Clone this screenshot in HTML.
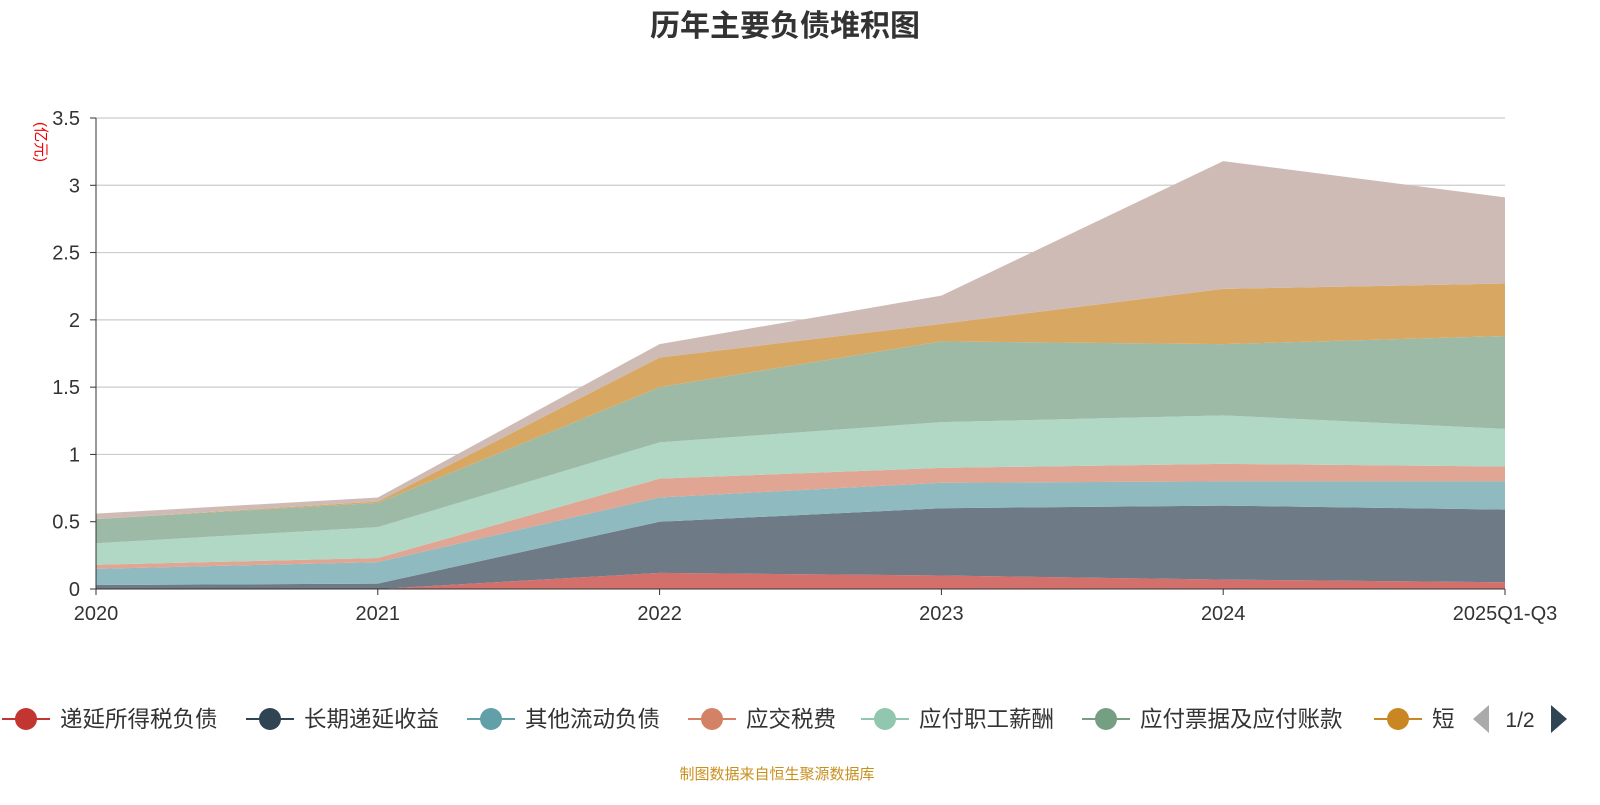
<!DOCTYPE html>
<html><head><meta charset="utf-8"><style>
body{margin:0;width:1600px;height:800px;background:#fff;font-family:"Liberation Sans","Noto Sans CJK SC",sans-serif;overflow:hidden}
</style></head><body>
<svg id="c" width="1600" height="800"></svg>
<script>
const categories=["2020","2021","2022","2023","2024","2025Q1-Q3"];
const seriesNames=["递延所得税负债","长期递延收益","其他流动负债","应交税费","应付职工薪酬","应付票据及应付账款","短期借款","其他"];
const s0=[0,0,0.12,0.10,0.07,0.05];
const s1=[0.03,0.04,0.38,0.50,0.55,0.54];
const s2=[0.12,0.16,0.18,0.19,0.18,0.21];
const s3=[0.03,0.03,0.14,0.11,0.13,0.11];
const s4=[0.16,0.23,0.27,0.34,0.36,0.28];
const s5=[0.18,0.18,0.41,0.60,0.53,0.69];
const s6=[0,0.01,0.22,0.13,0.41,0.39];
const s7=[0.04,0.03,0.10,0.21,0.95,0.64];
const series=[s0,s1,s2,s3,s4,s5,s6,s7];
const yTicks=[0,0.5,1,1.5,2,2.5,3,3.5];
const fills=["#d4706c","#6e7a85","#8fbac0","#e0a593","#b1d7c5","#9dbaa6","#d8a862","#cfbbb5"];
const legendColors=["#c23531","#2f4554","#61a0a8","#d48265","#91c7ae","#749f83","#ca8622"];
const legendLabels=["递延所得税负债","长期递延收益","其他流动负债","应交税费","应付职工薪酬","应付票据及应付账款","短"];
const NS="http://www.w3.org/2000/svg",svg=document.getElementById('c');
function mk(t,a,p){const e=document.createElementNS(NS,t);for(const k in a)e.setAttribute(k,a[k]);(p||svg).appendChild(e);return e;}
const x0=96,x1=1505,yb=589,yt=118;
const X=i=>x0+(x1-x0)*i/(categories.length-1);
const Y=v=>yb-(yb-yt)*v/3.5;
let t=mk('text',{x:785,y:36,'text-anchor':'middle','font-size':30,'font-weight':'bold',fill:'#333'});t.textContent='历年主要负债堆积图';

yTicks.forEach(v=>{
 if(v>0){const l=mk('line',{x1:x0,x2:x1,y1:Y(v),y2:Y(v),stroke:'#ccc','stroke-width':1.2});}
 const tl=mk('text',{x:80,y:Y(v)+7,'text-anchor':'end','font-size':20,fill:'#333'});tl.textContent=String(v);
 
 mk('line',{x1:90,x2:96,y1:Y(v),y2:Y(v),stroke:'#333'});
});
let cum=categories.map(()=>0);
series.forEach((s,k)=>{
 const lo=cum.slice();cum=cum.map((c,i)=>c+s[i]);
 let d='M'+categories.map((_,i)=>X(i)+','+Y(cum[i])).join('L');
 for(let i=categories.length-1;i>=0;i--)d+='L'+X(i)+','+Y(lo[i]);
 const p=mk('path',{d:d+'Z',fill:fills[k]});
 
});
mk('line',{x1:x0,x2:x0,y1:yt,y2:yb,stroke:'#333'});
mk('line',{x1:x0,x2:x1,y1:yb,y2:yb,stroke:'#333'});
categories.forEach((c,i)=>{
 mk('line',{x1:X(i),x2:X(i),y1:yb,y2:yb+6,stroke:'#333'});
 const tl=mk('text',{x:X(i),y:620,'text-anchor':'middle','font-size':20,fill:'#333'});tl.textContent=c;
 
});
t=mk('text',{x:36,y:142,'font-size':15,fill:'#e00','transform':'rotate(90 36 142)','text-anchor':'middle'});t.textContent='(亿元)';

const lx=[0,244,465,686,859,1080,1372];
legendLabels.forEach((n,i)=>{
 const g=mk('g',{});
 mk('line',{x1:lx[i]+2,x2:lx[i]+50,y1:719,y2:719,stroke:legendColors[i],'stroke-width':2},g);
 mk('circle',{cx:lx[i]+26,cy:719,r:11,fill:legendColors[i]},g);
 const tt=mk('text',{x:lx[i]+60,y:727,'font-size':22.5,fill:'#333'},g);tt.textContent=n;
});
let p=mk('path',{d:'M1473,719L1489,705L1489,733Z',fill:'#aaa'});
t=mk('text',{x:1520,y:727,'text-anchor':'middle','font-size':21,fill:'#333'});t.textContent='1/2';

p=mk('path',{d:'M1551,705L1567,719L1551,733Z',fill:'#2f4554'});
t=mk('text',{x:777,y:779,'text-anchor':'middle','font-size':15,fill:'#c8901f'});t.textContent='制图数据来自恒生聚源数据库';

</script></body></html>
